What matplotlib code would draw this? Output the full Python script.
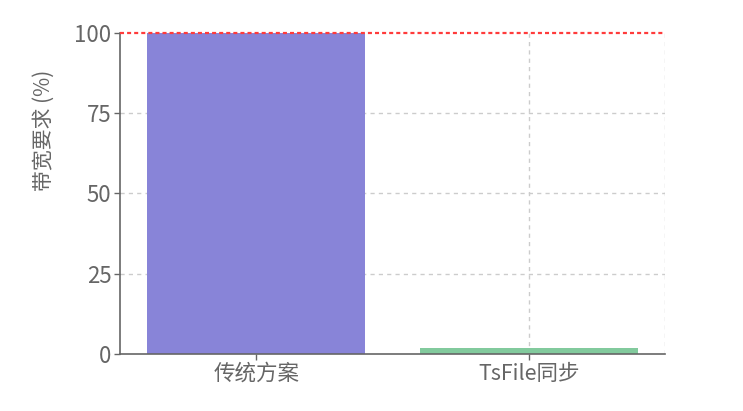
import matplotlib
matplotlib.use("Agg")
import matplotlib.pyplot as plt

plt.rcParams['font.family'] = ['Noto Sans CJK SC', 'DejaVu Sans']
plt.rcParams['lines.scale_dashes'] = False

# data
categories = ['传统方案', 'TsFile同步']
bandwidth = [100, 2]
bar_colors = ['#8884d8', '#82ca9d']
y_ticks = [0, 25, 50, 75, 100]
reference = 100

W, H = 743, 411
fig = plt.figure(figsize=(W / 100, H / 100), dpi=100)
ax = fig.add_axes([120 / W, 57 / H, 545 / W, 321 / H])

x = list(range(len(categories)))
ax.bar(x, bandwidth, width=0.8, color=bar_colors, zorder=2)
ax.set_xlim(-0.5, len(categories) - 0.5)
ax.set_ylim(0, 100)
ax.set_yticks(y_ticks)
ax.set_xticks(x)
ax.set_xticklabels(categories)

# grid like the original: dashed grey
grid_kw = dict(color='#cccccc', lw=1, dashes=(3.0, 3.0), zorder=1)
for yt in y_ticks[1:-1]:
    ax.axhline(yt, **grid_kw)
for xt in x:
    ax.axvline(xt, **grid_kw)
ax.axvline(len(categories) - 0.5, **grid_kw)

# reference line at 100%
ax.axhline(reference, color='#ff3b3b', lw=1.6, dashes=(2.9, 2.2), zorder=3, clip_on=False)

for s in ['top', 'right']:
    ax.spines[s].set_visible(False)
for s in ['left', 'bottom']:
    ax.spines[s].set_color('#666666')
    ax.spines[s].set_linewidth(1.2)
ax.tick_params(axis='both', colors='#666666', length=4.3, width=1)
ax.tick_params(axis='y', labelsize=16, pad=2)
ax.tick_params(axis='x', labelsize=15.5, pad=2)

fig.text(44 / W, 1 - 130 / H, '带宽要求 (%)', rotation=90, ha='center', va='center',
         fontsize=15, color='#666666')

fig.savefig('out.png', dpi=100)
